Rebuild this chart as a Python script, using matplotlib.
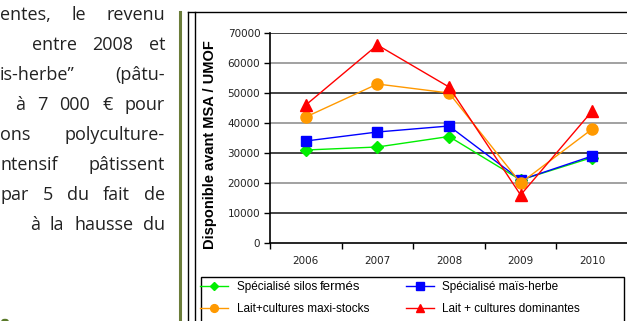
import matplotlib.pyplot as plt
from matplotlib.lines import Line2D
from matplotlib.patches import Circle, Rectangle

W, H = 627, 321

years = ["2006", "2007", "2008", "2009", "2010"]
silos_fermes = [31000, 32000, 35500, 21000, 28500]
mais_herbe = [34000, 37000, 39000, 21000, 29000]
maxi_stocks = [42000, 53000, 50000, 20000, 38000]
dominantes = [46000, 66000, 52000, 16000, 44000]
y_ticks = [0, 10000, 20000, 30000, 40000, 50000, 60000, 70000]

# bout de texte de la colonne de gauche : (début de ligne, mots)
text_lines = [
    (0, ["entes,", "le", "revenu"]),
    (32, ["entre", "2008", "et"]),
    (0, ["is-herbe\u201d", "(pâtu-"]),
    (15, ["à", "7", "000", "€", "pour"]),
    (0, ["ons", "polyculture-"]),
    (0, ["ntensif", "pâtissent"]),
    (0, ["par", "5", "du", "fait", "de"]),
    (30, ["à", "la", "hausse", "du"]),
]
TEXT_RIGHT = 165


def fx(x):
    return x / W


def fy(y):
    return 1 - y / H


fig = plt.figure(figsize=(W / 100, H / 100), dpi=100)
renderer = fig.canvas.get_renderer()

# texte justifié : espaces égaux entre les mots
for i, (x0, words) in enumerate(text_lines):
    base = 20 + 30 * i
    texts = [fig.text(0, fy(base), w, ha="left", va="baseline",
                      family="Open Sans", fontsize=13, color="#222222")
             for w in words]
    widths = [t.get_window_extent(renderer).width for t in texts]
    gap = (TEXT_RIGHT - x0 - sum(widths)) / (len(words) - 1)
    pos = x0
    for t, wd in zip(texts, widths):
        t.set_x(fx(pos))
        pos += wd + gap

fig.add_artist(Circle((fx(5), fy(321)), 3 / W, transform=fig.transFigure,
                      color="#5a7a2a"))

# filet vert et cadre du graphique
fig.add_artist(Line2D([fx(180), fx(180)], [fy(12), 0], color="#6b7d3a", lw=2.2))
fig.add_artist(Line2D([fx(188), fx(188)], [fy(12), 0], color="black", lw=1))
fig.add_artist(Line2D([fx(195), fx(195)], [fy(12), 0], color="black", lw=1))
fig.add_artist(Line2D([fx(188), 1], [fy(12), fy(12)], color="black", lw=1))

ax = fig.add_axes([fx(270), fy(243), fx(628) - fx(270), fy(33) - fy(243)])
x = range(len(years))

l_green, = ax.plot(x, silos_fermes, color="#00ee00", marker="D", ms=6.5,
                   lw=1, zorder=3, label="Spécialisé silos")
l_blue, = ax.plot(x, mais_herbe, color="#0000ff", marker="s", ms=7.5,
                  lw=1, zorder=4, label="Spécialisé maïs-herbe")
l_orange, = ax.plot(x, maxi_stocks, color="#ff9900", marker="o", ms=8,
                    lw=1, zorder=5, label="Lait+cultures maxi-stocks")
l_red, = ax.plot(x, dominantes, color="#ff0000", marker="^", ms=9,
                 lw=1, zorder=6, label="Lait + cultures dominantes")

ax.set_xlim(-0.5, 4.5)
ax.set_ylim(0, 70000)
ax.set_yticks(y_ticks)
ax.set_yticklabels([str(v) for v in y_ticks])
ax.set_xticks(list(x))
ax.set_xticklabels(years)
ax.set_xticks([i - 0.5 for i in range(len(years) + 1)], minor=True)
ax.tick_params(axis="x", which="major", length=0, pad=9, labelsize=7.5, labelcolor="#222222")
ax.tick_params(axis="x", which="minor", length=4, width=1, direction="out")
ax.tick_params(axis="y", length=4, width=1, pad=3, labelsize=7.5, labelcolor="#222222")

for v in y_ticks[1:]:
    c = "#111111" if (v // 10000) % 2 == 1 else "#888888"
    ax.axhline(v, color=c, lw=1.1, zorder=1)

for s in ["top", "right"]:
    ax.spines[s].set_visible(False)
ax.spines["left"].set_linewidth(1.2)
ax.spines["bottom"].set_linewidth(1.2)

fig.text(fx(210), fy(145), "Disponible avant MSA / UMOF", rotation=90,
         ha="center", va="center", family="Liberation Sans", weight="bold",
         fontsize=10.5)

# cadre de la légende
fig.add_artist(Rectangle((fx(201), -0.05), fx(624) - fx(201), fy(277) + 0.05,
                         transform=fig.transFigure, fill=False,
                         edgecolor="black", lw=1))

leg = fig.legend(handles=[l_green, l_orange, l_blue, l_red], ncol=2,
                 loc="upper left", bbox_to_anchor=(fx(200), fy(281)),
                 prop={"family": "Liberation Sans", "size": 8.5},
                 frameon=False, borderpad=0, handlelength=2.4,
                 handletextpad=0.7, labelspacing=0.85, columnspacing=3.1,
                 markerscale=0.7, borderaxespad=0)

# "fermés" en plus gros, sur la même ligne de base que le libellé
fig.canvas.draw()
t0 = leg.get_texts()[0]
bb = t0.get_window_extent()
bx, by = t0.get_transform().transform(t0.get_position())
fig.text((bb.x1 + 3) / W, by / H, "fermés", ha="left",
         va="baseline", family="Liberation Sans", fontsize=9.5, zorder=10)

fig.savefig("out.png", dpi=100)
